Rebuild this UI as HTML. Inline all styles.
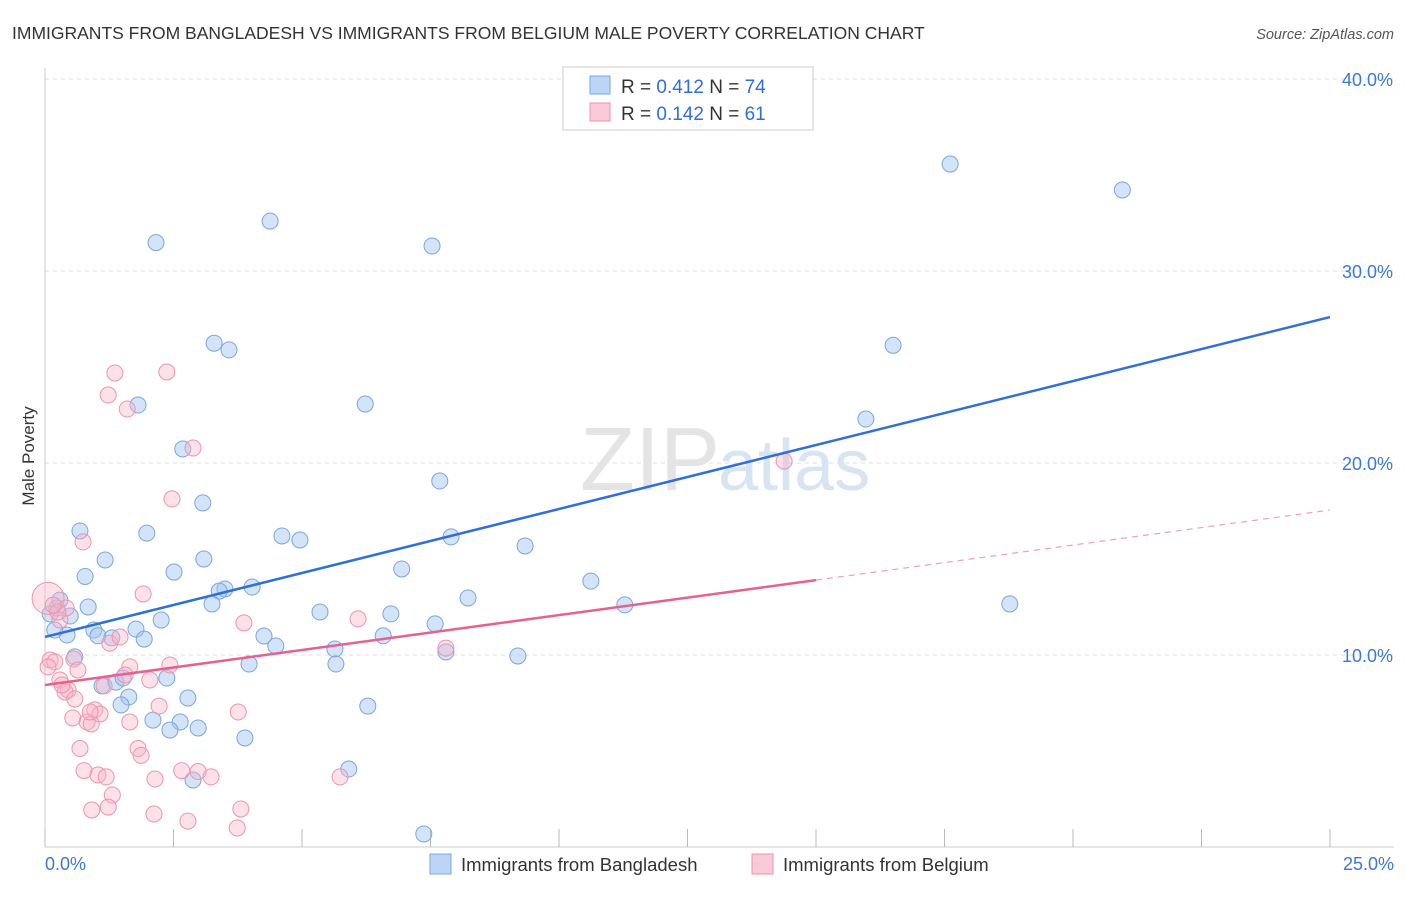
<!DOCTYPE html>
<html><head><meta charset="utf-8"><style>
body{margin:0;background:#fff;font-family:"Liberation Sans",sans-serif}
svg text{font-family:"Liberation Sans",sans-serif}
</style></head><body>
<svg width="1406" height="892" xmlns="http://www.w3.org/2000/svg">
<text x="12" y="39" font-size="17.5" fill="#333">IMMIGRANTS FROM BANGLADESH VS IMMIGRANTS FROM BELGIUM MALE POVERTY CORRELATION CHART</text>
<text x="1394" y="39" font-size="14.5" fill="#555" font-style="italic" text-anchor="end">Source: ZipAtlas.com</text>
<g id="grid"></g>
<g id="axes"></g>
<text x="720" y="490" font-size="90" fill="#e4e4e4" font-family="Liberation Serif" text-anchor="end">ZIP</text>
<text x="718" y="490" font-size="72" fill="#d6e4f3">atlas</text>
<g id="marks"></g>
<text x="34" y="456" font-size="17" fill="#333" text-anchor="middle" transform="rotate(-90 34 456)">Male Poverty</text>
<g>
<rect x="563" y="67" width="250" height="63" fill="#fff" stroke="#ccc"/>
<rect x="590" y="76" width="20" height="18" fill="#bcd4f5" stroke="#7aa6e0"/>
<text x="621" y="93" font-size="19" fill="#333">R = <tspan fill="#2f6fd8">0.412</tspan>   N = <tspan fill="#2f6fd8">74</tspan></text>
<rect x="590" y="103" width="20" height="18" fill="#fbcad8" stroke="#ee93ae"/>
<text x="621" y="120" font-size="19" fill="#333">R = <tspan fill="#2f6fd8">0.142</tspan>   N =  <tspan fill="#2f6fd8">61</tspan></text>
</g>
<g>
<rect x="430" y="854" width="21" height="20" fill="#bcd4f5" stroke="#7aa6e0"/>
<text x="461" y="871" font-size="18.5" fill="#333">Immigrants from Bangladesh</text>
<rect x="752" y="854" width="21" height="20" fill="#fbcad8" stroke="#ee93ae"/>
<text x="783" y="871" font-size="18.5" fill="#333">Immigrants from Belgium</text>
</g>
</svg>
<script>
const xTickVals=[0,2.5,5,7.5,10,12.5,15,17.5,20,22.5,25];
const yTickVals=[10,20,30,40];
const yTickLabels=["10.0%","20.0%","30.0%","40.0%"];
const xEndLabels=["0.0%","25.0%"];
const bangladeshX=[2.16,4.38,7.53,17.61,20.96,3.29,3.58,1.81,6.23,16.5,15.97,2.68,7.68,0.68,1.98,3.07,4.61,4.96,7.9,1.17,3.09,9.34,6.94,10.62,0.78,2.51,3.5,4.03,3.39,3.25,8.23,0.84,0.23,0.49,5.35,6.73,7.59,11.28,18.77,0.1,0.95,0.43,1.03,1.3,1.77,2.26,1.93,4.26,4.49,5.64,6.58,7.8,9.2,0.58,3.97,5.66,2.37,1.11,1.38,1.52,1.63,2.78,1.48,6.28,2.1,2.63,2.98,2.43,3.89,2.88,5.91,7.37,0.29,0.19];
const bangladeshY=[31.48,32.6,31.3,35.57,34.22,26.24,25.89,23.02,23.07,26.13,22.29,20.73,19.06,16.46,16.35,17.92,16.2,15.99,16.15,14.95,15,15.68,14.48,13.85,14.09,14.32,13.44,13.54,13.33,12.66,12.97,12.5,12.45,12.03,12.24,12.14,11.62,12.61,12.66,12.14,11.3,11.04,11,10.89,11.35,11.82,10.83,10.99,10.47,10.31,11,10.16,9.95,9.9,9.53,9.53,8.8,8.39,8.59,8.8,7.81,7.76,7.4,7.34,6.61,6.51,6.2,6.09,5.68,3.49,4.06,0.68,12.86,11.3];
const belgiumX=[0.06,2.37,1.36,1.23,1.6,2.88,2.47,0.74,1.91,3.87,6.09,14.38,7.8,1.26,1.46,0.41,0.29,0.1,0.19,0.06,0.56,0.64,1.65,2.43,1.56,0.29,0.45,0.39,1.15,2.22,3.76,0.54,0.82,0.9,0.97,1.07,1.65,0.68,1.81,1.87,0.76,1.03,1.19,2.66,2.98,3.23,2.14,5.74,1.31,0.91,1.23,3.81,2.12,2.78,3.74,0.25,0.16,0.33,0.88,0.58,2.04];
const belgiumY=[12.95,24.74,24.69,23.54,22.81,20.78,18.13,15.89,13.18,11.67,11.88,20.1,10.36,10.62,10.94,12.45,11.82,9.74,9.64,9.38,9.79,9.22,9.38,9.48,8.96,8.7,8.18,8.07,8.39,7.34,7.03,6.72,6.51,6.41,7.14,6.93,6.51,5.13,5.13,4.77,3.98,3.75,3.65,3.98,3.93,3.65,3.54,3.65,2.71,1.93,2.08,1.98,1.72,1.35,0.99,12.24,12.6,8.44,7.03,7.71,8.7];
const blueFit=[10.94,27.6];
const pinkFit=[8.44,13.9,17.55];
const pinkSolidEnd=15;
const NS="http://www.w3.org/2000/svg";
const X=v=>45+v*51.4, Y=v=>847-v*19.2;
function mk(t,a,p){const e=document.createElementNS(NS,t);for(const k in a)e.setAttribute(k,a[k]);p.appendChild(e);return e;}
const grid=document.getElementById('grid'),axes=document.getElementById('axes'),marks=document.getElementById('marks');
yTickVals.forEach((v,i)=>{
 const l=mk('line',{x1:45,x2:1394,y1:Y(v),y2:Y(v),stroke:'#ddd','stroke-dasharray':'4,4'},grid);
 
 
 const t=mk('text',{x:1393,y:Y(v)+7,'font-size':18,fill:'#3d78d8','text-anchor':'end'},axes);
 t.textContent=yTickLabels[i];
 
 
});
const al=mk('line',{x1:45,x2:45,y1:68,y2:847,stroke:'#ccc'},axes);


const bl=mk('line',{x1:45,x2:1394,y1:847,y2:847,stroke:'#ccc'},axes);


xTickVals.forEach(v=>{
 const t=mk('line',{x1:X(v),x2:X(v),y1:829,y2:847,stroke:'#bbb'},axes);
 
 
});
[[0,'start',45],[25,'end',1394]].forEach((d,i)=>{
 const t=mk('text',{x:d[2],y:870,'font-size':18,fill:'#3d78d8','text-anchor':d[1]},axes);
 t.textContent=xEndLabels[i];
 
 
});
bangladeshX.forEach((x,i)=>{
 const c=mk('circle',{cx:X(x),cy:Y(bangladeshY[i]),r:8,fill:'rgba(160,195,240,0.45)',stroke:'#7aa6e0','stroke-width':1},marks);
 
 
});
belgiumX.forEach((x,i)=>{
 const c=mk('circle',{cx:X(x),cy:Y(belgiumY[i]),r:i==0?16:8,fill:'rgba(248,180,200,0.4)',stroke:'#ee93ae','stroke-width':1},marks);
 
 
});
const tb=mk('line',{x1:X(0),y1:Y(blueFit[0]),x2:X(25),y2:Y(blueFit[1]),stroke:'#2f6fd8','stroke-width':2.5},marks);


const tp=mk('line',{x1:X(0),y1:Y(pinkFit[0]),x2:X(pinkSolidEnd),y2:Y(pinkFit[1]),stroke:'#e8608e','stroke-width':2.5},marks);


const td=mk('line',{x1:X(pinkSolidEnd),y1:Y(pinkFit[1]),x2:X(25),y2:Y(pinkFit[2]),stroke:'#eea0b8','stroke-width':1.2,'stroke-dasharray':'6,5'},marks);


</script>
</body></html>
